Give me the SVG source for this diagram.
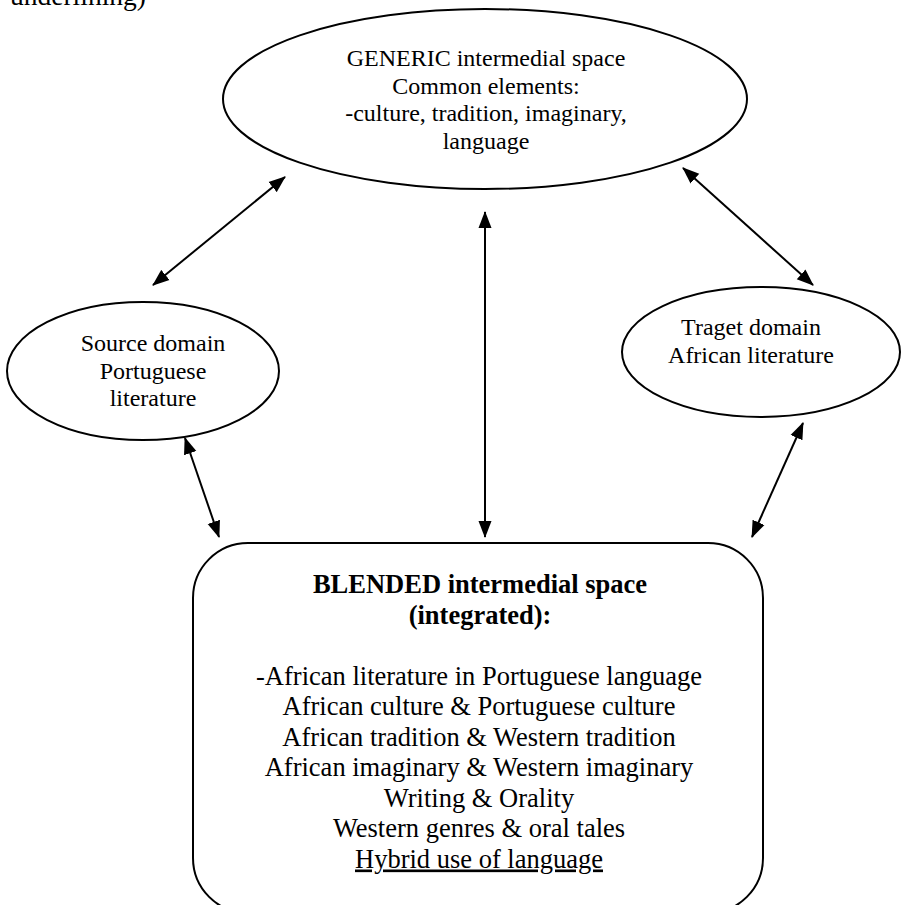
<svg xmlns="http://www.w3.org/2000/svg" width="902" height="905" viewBox="0 0 902 905">
<style>
text{font-family:"Liberation Serif","Times New Roman",serif;fill:#000;text-anchor:middle}
.s{font-size:24px}
.b{font-size:26.5px}
.bold{font-weight:bold}
.shape{fill:#fff;stroke:#000;stroke-width:2}
.conn line{stroke:#000;stroke-width:2;marker-start:url(#ah);marker-end:url(#ah)}
</style>
<defs>
<marker id="ah" markerUnits="userSpaceOnUse" markerWidth="17" markerHeight="14" refX="16" refY="7" orient="auto-start-reverse">
<path d="M0,0.5 L17,7 L0,13.5 z" fill="#000"/>
</marker>
</defs>
<rect width="902" height="905" fill="#fff"/>
<text x="10" y="5" style="text-anchor:start;font-size:27.5px">underlining)</text>
<g id="generic">
<ellipse class="shape" cx="485" cy="99" rx="262" ry="90"/>
<text class="s" x="486" y="66">GENERIC intermedial space</text>
<text class="s" x="486" y="93.5">Common elements:</text>
<text class="s" x="486" y="121">-culture, tradition, imaginary,</text>
<text class="s" x="486" y="148.5">language</text>
</g>
<g id="source">
<ellipse class="shape" cx="143" cy="371" rx="136" ry="69"/>
<text class="s" x="153" y="351">Source domain</text>
<text class="s" x="153" y="378.5">Portuguese</text>
<text class="s" x="153" y="406">literature</text>
</g>
<g id="target">
<ellipse class="shape" cx="761" cy="352" rx="139" ry="65"/>
<text class="s" x="751" y="335">Traget domain</text>
<text class="s" x="751" y="363">African literature</text>
</g>
<g id="blended">
<rect class="shape" x="193" y="543" width="570" height="370" rx="55" ry="55"/>
<text class="b bold" x="480" y="593">BLENDED intermedial space</text>
<text class="b bold" x="480" y="623.5">(integrated):</text>
<text class="b" x="479" y="684.5">-African literature in Portuguese language</text>
<text class="b" x="479" y="715">African culture &amp; Portuguese culture</text>
<text class="b" x="479" y="745.5">African tradition &amp; Western tradition</text>
<text class="b" x="479" y="776">African imaginary &amp; Western imaginary</text>
<text class="b" x="479" y="806.5">Writing &amp; Orality</text>
<text class="b" x="479" y="837">Western genres &amp; oral tales</text>
<text class="b" x="479" y="867.5" text-decoration="underline">Hybrid use of language</text>
</g>
<g id="connectors" class="conn">
<line x1="153" y1="285" x2="285" y2="177"/>
<line x1="485" y1="212" x2="485" y2="537"/>
<line x1="683" y1="168" x2="813" y2="285"/>
<line x1="185" y1="438" x2="219" y2="537"/>
<line x1="803" y1="423" x2="752" y2="537"/>
</g>
</svg>
